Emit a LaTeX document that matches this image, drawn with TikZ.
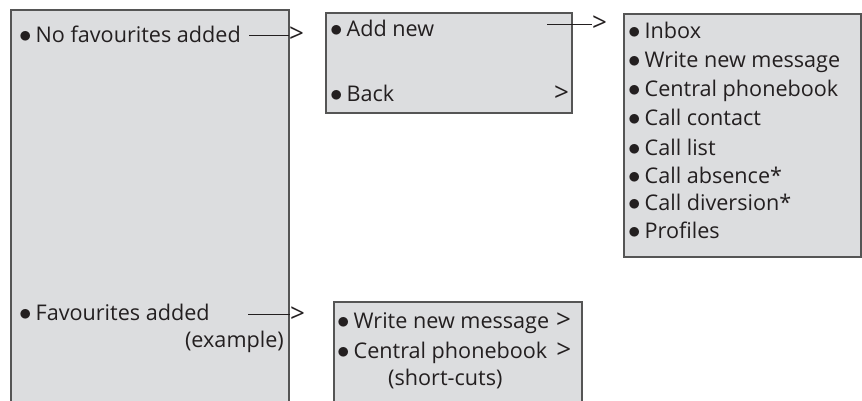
\documentclass[tikz,border=0pt]{standalone}
\usepackage{fontspec}
\setmainfont{Open Sans}
\newcommand{\bul}{{\fontsize{24.88}{25}\selectfont$\bullet$}\hspace{4pt}}
\newcommand{\gtmark}{{\fontsize{26}{26}\selectfont >}}
\definecolor{boxfill}{RGB}{220,221,223}
\definecolor{boxline}{RGB}{85,85,85}
\definecolor{ink}{RGB}{35,31,32}
\begin{document}
\begin{tikzpicture}[x=1pt,y=-1pt,
  txt/.style={anchor=base west,inner sep=0pt,text=ink,font=\fontsize{21.6}{24}\selectfont},
  gtsign/.style={anchor=base west,inner sep=0pt,text=ink,font=\fontsize{26}{26}\selectfont},
  panel/.style={fill=boxfill,draw=boxline,line width=1.3pt},
  conn/.style={draw=ink,line width=0.9pt}]
\useasboundingbox (0,0) rectangle (862,401);
% left panel (open at the bottom)
\fill[boxfill] (11,10) rectangle (289,402);
\draw[boxline,line width=1.3pt] (11,403) -- (11,10) -- (289,10) -- (289,403);
% panel 2
\draw[panel] (326,13) rectangle (572,113);
% panel 3
\draw[panel] (624,14) rectangle (861,257);
% panel 4 (open at the bottom)
\fill[boxfill] (334,302) rectangle (582,402);
\draw[boxline,line width=1.3pt] (334,403) -- (334,302) -- (582,302) -- (582,403);

% texts left panel
\node[txt] (nofav) at (19,43) {\bul No favourites added};
\node[txt] (fav) at (19,320) {\bul Favourites added};
\node[txt,anchor=base east] (example) at (284,347) {(example)};
% panel 2
\node[txt] (addnew) at (330,37) {\bul Add new};
\node[txt] (back) at (330,102) {\bul Back};
\node[gtsign] (backgt) at (554,102) {>};
% panel 3
\node[txt] (inbox) at (628,39) {\bul Inbox};
\node[txt] (write) at (628,68) {\bul Write new message};
\node[txt] (central) at (628,97) {\bul Central phonebook};
\node[txt] (contact) at (628,126) {\bul Call contact};
\node[txt] (clist) at (628,155) {\bul Call list};
\node[txt] (absence) at (628,183) {\bul Call absence*};
\node[txt] (diversion) at (628,210) {\bul Call diversion*};
\node[txt] (profiles) at (628,238) {\bul Profiles};
% panel 4
\node[txt] (swrite) at (337,328) {\bul Write new message\hspace{7pt}\gtmark};
\node[txt] (scentral) at (337,358) {\bul Central phonebook\hspace{9pt}\gtmark};
\node[txt] (shortcuts) at (388,385) {(short-cuts)};

% arrows (line + ">" sign)
\node[gtsign] (g1) at (289,43) {>};
\coordinate (s1) at (249,0);
\draw[conn] (s1 |- g1.west) -- (g1.west);
\node[gtsign] (g2) at (592,32) {>};
\coordinate (s2) at (547,0);
\draw[conn] (s2 |- g2.west) -- (g2.west);
\node[gtsign] (g3) at (290,322) {>};
\coordinate (s3) at (248,0);
\draw[conn] (s3 |- g3.west) -- (g3.west);
\end{tikzpicture}
\end{document}
